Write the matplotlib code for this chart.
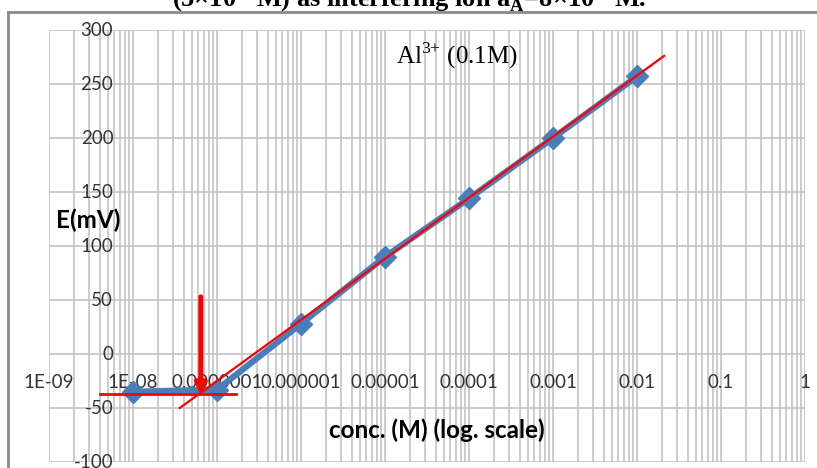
import matplotlib.pyplot as plt
from matplotlib.lines import Line2D

plt.rcParams['mathtext.fontset'] = 'custom'
plt.rcParams['mathtext.rm'] = 'Liberation Serif'
plt.rcParams['mathtext.bf'] = 'Liberation Serif:bold'

# measured potential vs concentration
conc = [1e-8, 1e-7, 1e-6, 1e-5, 1e-4, 1e-3, 1e-2]
emf = [-35, -33, 28, 90, 144, 200, 257]

# red construction lines
fit_x = [3.6e-8, 2.1e-2]
fit_y = [-50, 276]
base_x = [4.0e-9, 1.7e-7]
base_y = [-37, -37]
lod_x = 6.4e-8
lod_y = [53, -38]

x_ticks = [1e-9, 1e-8, 1e-7, 1e-6, 1e-5, 1e-4, 1e-3, 1e-2, 1e-1, 1]
x_labels = ['1E-09', '1E-08', '0.0000001', '0.000001', '0.00001',
            '0.0001', '0.001', '0.01', '0.1', '1']
y_ticks = [300, 250, 200, 150, 100, 50, 0, -50, -100]

fig = plt.figure(figsize=(8.17, 4.68), dpi=100)
ax = fig.add_axes([49 / 817, 6 / 468, 756 / 817, 432 / 468])
ax.set_xscale('log')
ax.set_xlim(1e-9, 1)
ax.set_ylim(-100, 300)

# grid like Excel: majors + minors on log axis
ax.set_xticks(x_ticks)
ax.set_yticks(y_ticks)
ax.grid(True, which='both', color='#c4c4c4', lw=1.2)
ax.tick_params(which='both', length=0, labelbottom=False, labelleft=False)
for s in ax.spines.values():
    s.set_visible(False)
ax.set_axisbelow(True)

tick_font = dict(family='Lato', fontsize=13.5, color='#333333')
for xv, lab in zip(x_ticks, x_labels):
    ax.text(xv, -26, lab, ha='center', va='center', **tick_font)
for yv in y_ticks:
    ax.text(0.085, yv, str(yv), ha='right', va='center',
            transform=ax.get_yaxis_transform(), **tick_font)

ax.plot(conc, emf, color='#4a7ebb', lw=4.5, marker='D', ms=11,
        solid_capstyle='round', zorder=3)

ax.plot(fit_x, fit_y, color='red', lw=1.6, zorder=4)
ax.plot(base_x, base_y, color='red', lw=2, zorder=4)
ax.annotate('', xy=(lod_x, lod_y[1]), xytext=(lod_x, lod_y[0]),
            arrowprops=dict(arrowstyle='-|>', color='red', lw=3.5,
                            mutation_scale=16, shrinkA=0, shrinkB=0),
            zorder=5)

ax.text(0.459, 0.94, r'Al$^{3{+}}$ (0.1M)', transform=ax.transAxes,
        family='Liberation Serif', fontsize=18, ha='left', va='center')
ax.text(437 / 817, 1 - 430 / 468, 'conc. (M) (log. scale)', transform=fig.transFigure,
        family='Lato', fontweight='bold', fontsize=17.5, ha='center', va='center')
ax.text(88 / 817, 1 - 220 / 468, 'E(mV)', transform=fig.transFigure,
        family='Lato', fontweight='bold', fontsize=17.5, ha='center', va='center')

# cropped caption at the top and outer frame of the embedded chart
fig.text(409 / 817, 1 - 6 / 468,
         r'(5×10$^{-4}$M) as interfering ion a$_{\mathbf{A}}$=8×10$^{-3}$M.',
         family='Liberation Serif', fontweight='bold', fontsize=19,
         ha='center', va='baseline')
fig.add_artist(Line2D([8 / 817, 8 / 817], [0, 1 - 12 / 468],
                      transform=fig.transFigure, color='#8a8a8a', lw=2))
fig.add_artist(Line2D([8 / 817, 1], [1 - 12 / 468, 1 - 12 / 468],
                      transform=fig.transFigure, color='#8a8a8a', lw=2))

fig.savefig('out.png', dpi=100)
